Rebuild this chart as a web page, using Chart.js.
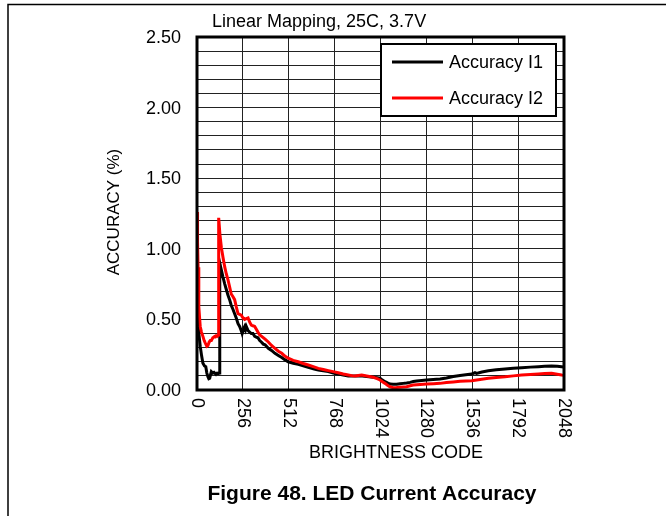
<!DOCTYPE html>
<html>
<head>
<meta charset="utf-8">
<script src="https://cdn.jsdelivr.net/npm/chart.js@4.4.1/dist/chart.umd.min.js"></script>
<style>
  html, body { margin: 0; padding: 0; background: #fff; }
  #chart { display: block; }
</style>
</head>
<body>
<canvas id="chart" width="671" height="516"></canvas>
<script>
// ==================== DATA ====================

const chartTitle = 'Linear Mapping, 25C, 3.7V';
const xAxisTitle = 'BRIGHTNESS CODE';
const yAxisTitle = 'ACCURACY (%)';
const figureCaption = 'Figure 48. LED Current Accuracy';

const xTickLabels = [0, 256, 512, 768, 1024, 1280, 1536, 1792, 2048];
const yTickLabels = [0, 0.5, 1.0, 1.5, 2.0, 2.5];

const seriesNames = ['Accuracy I1', 'Accuracy I2'];

// Accuracy I1 (black)
const i1Codes = [
  0, 6, 12, 18, 26, 33, 42, 49, 55, 61, 66, 71, 76, 80, 88, 95, 99, 106, 112, 117, 122, 125,
  127, 136, 145, 155, 164, 173, 182, 191, 201, 210, 219, 229, 238, 247, 252, 257, 262, 266,
  271, 275, 285, 294, 303, 312, 322, 331, 340, 350, 359, 370, 380, 398, 416, 435, 454, 473,
  490, 509, 537, 565, 593, 621, 649, 677, 705, 733, 760, 788, 816, 844, 870, 910, 947, 984,
  1005, 1021, 1035, 1049, 1063, 1077, 1095, 1114, 1133, 1151, 1170, 1189, 1207, 1226, 1254,
  1282, 1318, 1356, 1392, 1430, 1468, 1500, 1533, 1545, 1551, 1560, 1590, 1626, 1670, 1719,
  1765, 1812, 1860, 1905, 1940, 1979, 2010, 2035, 2048
];
const i1Values = [
  0.55, 0.45, 0.38, 0.31, 0.24, 0.19, 0.17, 0.165, 0.12, 0.094, 0.08, 0.083, 0.11, 0.13, 0.12, 0.125, 0.12, 0.115, 0.12, 0.118, 0.12, 0.12,
  0.90, 0.85, 0.80, 0.75, 0.71, 0.67, 0.64, 0.60, 0.57, 0.54, 0.51, 0.47, 0.45, 0.42, 0.40, 0.42, 0.44, 0.45,
  0.43, 0.45, 0.42, 0.41, 0.40, 0.40, 0.38, 0.375, 0.37, 0.35, 0.34, 0.325, 0.32, 0.295, 0.28, 0.26, 0.245, 0.23,
  0.215, 0.20, 0.19, 0.182, 0.172, 0.16, 0.15, 0.142, 0.136, 0.13, 0.12, 0.113, 0.106, 0.099, 0.10, 0.10, 0.095, 0.09,
  0.087, 0.083, 0.07, 0.059, 0.05, 0.042, 0.04, 0.04, 0.044, 0.047, 0.05, 0.054, 0.06, 0.064, 0.068,
  0.071, 0.075, 0.078, 0.085, 0.095, 0.103, 0.108, 0.113, 0.12, 0.123, 0.118, 0.128, 0.137, 0.143, 0.149,
  0.154, 0.158, 0.162, 0.165, 0.168, 0.17, 0.168, 0.165, 0.163
];

// Accuracy I2 (red)
const i2Codes = [
  0, 3, 6, 9, 11, 14, 18, 25, 33, 40, 47, 55, 61, 68, 74, 80, 88, 95, 99, 106, 112, 117, 120,
  121, 128, 136, 145, 155, 164, 173, 182, 191, 201, 210, 219, 229, 238, 247, 257, 266, 275,
  285, 294, 303, 312, 322, 331, 340, 350, 361, 380, 398, 416, 435, 454, 473, 490, 509, 537,
  565, 593, 621, 649, 677, 705, 733, 760, 788, 816, 844, 870, 882, 900, 919, 947, 984, 1005,
  1021, 1035, 1049, 1063, 1077, 1095, 1114, 1133, 1151, 1170, 1189, 1207, 1245, 1282, 1320,
  1356, 1392, 1430, 1468, 1500, 1533, 1580, 1626, 1670, 1719, 1765, 1812, 1860, 1905, 1940,
  1979, 2010, 2035, 2048
];
const i2Values = [
  1.26, 1.05, 0.87, 0.70, 0.59, 0.52, 0.45, 0.41, 0.38, 0.35, 0.33, 0.31, 0.315, 0.34, 0.35, 0.35, 0.37, 0.375, 0.38, 0.385, 0.38, 0.38, 0.39,
  1.22, 1.10, 1.01, 0.94, 0.87, 0.82, 0.78, 0.73, 0.68, 0.66, 0.64, 0.59, 0.54, 0.535, 0.53, 0.51, 0.50, 0.505,
  0.51, 0.48, 0.46, 0.455, 0.45, 0.43, 0.41, 0.39, 0.38, 0.36, 0.34, 0.315, 0.295, 0.275, 0.26, 0.24, 0.225, 0.21,
  0.20, 0.188, 0.177, 0.165, 0.153, 0.145, 0.137, 0.13, 0.122, 0.113, 0.106, 0.10, 0.099, 0.103, 0.106, 0.099, 0.09, 0.08,
  0.071, 0.058, 0.047, 0.034, 0.023, 0.016, 0.017, 0.019, 0.021, 0.023, 0.03, 0.035, 0.039, 0.042, 0.045,
  0.047, 0.053, 0.057, 0.062, 0.064, 0.066, 0.075, 0.083, 0.089, 0.094, 0.1, 0.106, 0.11, 0.113, 0.116,
  0.118, 0.112, 0.106, 0.105
];

// ==================== CHART ====================

const FONT = 'Arial, "Liberation Sans", sans-serif';

function toPoints(codes, values) {
  return codes.map((c, i) => ({ x: c, y: values[i] }));
}

const decorPlugin = {
  id: 'decor',
  afterDraw(chart) {
    const ctx = chart.ctx;
    const area = chart.chartArea;
    const xScale = chart.scales.x;
    const yScale = chart.scales.y;

    ctx.save();

    // page frame
    ctx.strokeStyle = '#000';
    ctx.lineWidth = 1.5;
    ctx.beginPath();
    ctx.moveTo(8, 516);
    ctx.lineTo(8, 4.5);
    ctx.lineTo(666, 4.5);
    ctx.stroke();

    // heavy plot border
    ctx.lineWidth = 3;
    ctx.strokeRect(area.left, area.top, area.right - area.left, area.bottom - area.top);

    ctx.fillStyle = '#000';

    // title
    ctx.font = '18px ' + FONT;
    ctx.textAlign = 'left';
    ctx.textBaseline = 'alphabetic';
    ctx.fillText(chartTitle, 212, 27);

    // x tick labels, rotated clockwise
    ctx.font = '18px ' + FONT;
    xTickLabels.forEach(v => {
      const px = xScale.getPixelForValue(v);
      ctx.save();
      ctx.translate(px, 398);
      ctx.rotate(Math.PI / 2);
      ctx.textAlign = 'left';
      ctx.textBaseline = 'middle';
      ctx.fillText(String(v), 0, 0);
      ctx.restore();
    });

    // y tick labels
    ctx.textAlign = 'right';
    ctx.textBaseline = 'middle';
    yTickLabels.forEach(v => {
      ctx.fillText(v.toFixed(2), 181, yScale.getPixelForValue(v) + 1);
    });

    // axis titles
    ctx.textAlign = 'center';
    ctx.textBaseline = 'middle';
    ctx.fillText(xAxisTitle, 396, 453);

    ctx.save();
    ctx.translate(114, 212);
    ctx.rotate(-Math.PI / 2);
    ctx.font = '17px ' + FONT;
    ctx.fillText(yAxisTitle, 0, 0);
    ctx.restore();

    // caption
    ctx.font = 'bold 21px ' + FONT;
    ctx.fillText(figureCaption, 372, 494);

    // legend
    ctx.fillStyle = '#fff';
    ctx.fillRect(381, 44, 175, 72);
    ctx.lineWidth = 2;
    ctx.strokeStyle = '#000';
    ctx.strokeRect(381, 44, 175, 72);
    const legendRows = [62, 98];
    chart.data.datasets.forEach((ds, i) => {
      const ly = legendRows[i];
      ctx.strokeStyle = ds.borderColor;
      ctx.lineWidth = 3;
      ctx.beginPath();
      ctx.moveTo(392, ly);
      ctx.lineTo(443, ly);
      ctx.stroke();
      ctx.fillStyle = '#000';
      ctx.font = '18px ' + FONT;
      ctx.textAlign = 'left';
      ctx.textBaseline = 'middle';
      ctx.fillText(ds.label, 449, ly + 1);
    });

    ctx.restore();
  }
};

const ctx = document.getElementById('chart').getContext('2d');

new Chart(ctx, {
  type: 'line',
  data: {
    datasets: [
      {
        label: seriesNames[0],
        data: toPoints(i1Codes, i1Values),
        borderColor: '#000000',
        borderWidth: 3,
        pointRadius: 0,
        tension: 0,
        fill: false,
        order: 1
      },
      {
        label: seriesNames[1],
        data: toPoints(i2Codes, i2Values),
        borderColor: '#ff0000',
        borderWidth: 3,
        pointRadius: 0,
        tension: 0,
        fill: false,
        order: 0
      }
    ]
  },
  options: {
    responsive: false,
    animation: false,
    devicePixelRatio: 1,
    layout: {
      padding: { left: 0, top: 37, right: 107, bottom: 0 }
    },
    plugins: {
      legend: { display: false },
      tooltip: { enabled: false },
      title: { display: false }
    },
    scales: {
      x: {
        type: 'linear',
        min: 0,
        max: 2048,
        ticks: { display: false, stepSize: 256, autoSkip: false },
        grid: { color: '#222', lineWidth: 1, drawTicks: false },
        border: { display: false },
        afterFit: function(scale) { scale.height = 126; }
      },
      y: {
        min: 0,
        max: 2.5,
        ticks: { display: false, stepSize: 0.1, autoSkip: false, maxTicksLimit: 100 },
        grid: { color: '#222', lineWidth: 1, drawTicks: false },
        border: { display: false },
        afterFit: function(scale) { scale.width = 197; }
      }
    }
  },
  plugins: [decorPlugin]
});
</script>
</body>
</html>
